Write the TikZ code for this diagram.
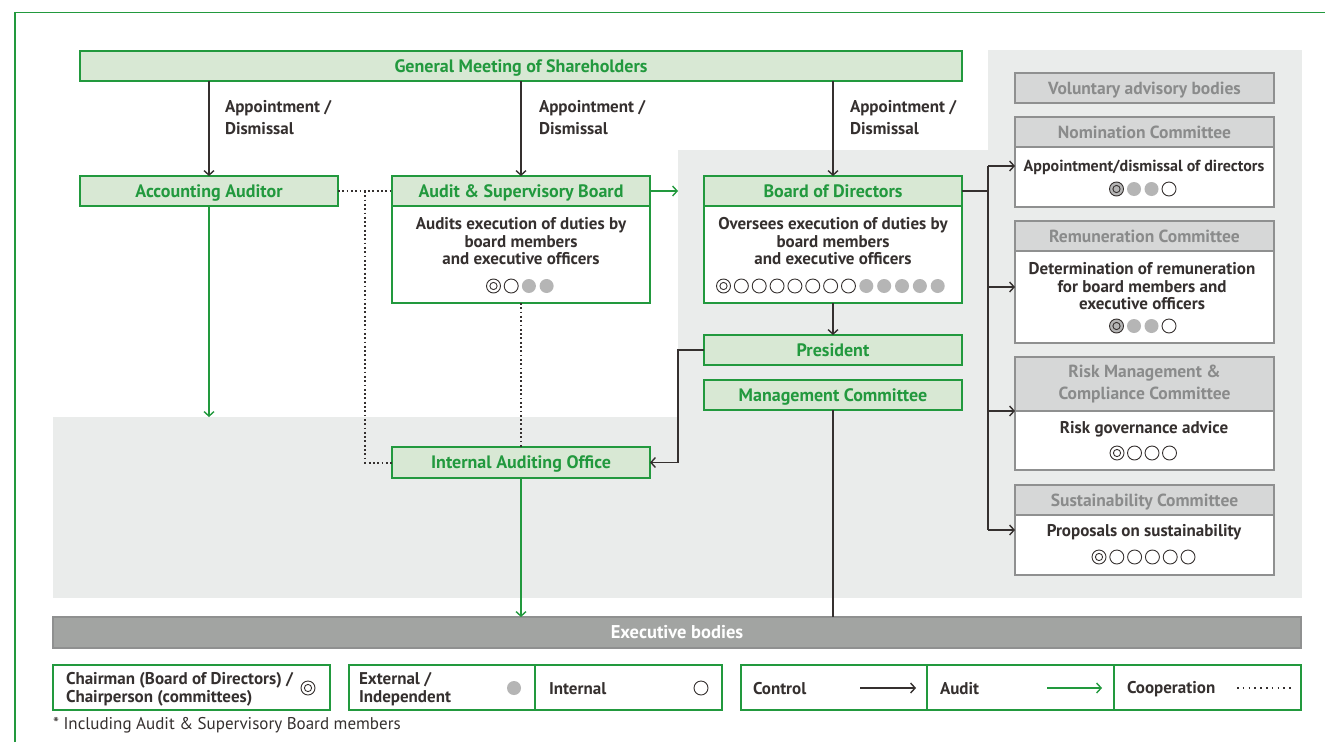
\documentclass[tikz,border=0pt]{standalone}
\usepackage{fontspec}
\setmainfont{PT Sans}
\usetikzlibrary{arrows.meta}
\definecolor{grn}{HTML}{22993E}
\definecolor{lgrn}{HTML}{D8E8D4}
\definecolor{bgc}{HTML}{EAECEB}
\definecolor{dk}{HTML}{35302F}
\definecolor{hgray}{HTML}{D6D7D7}
\definecolor{bgray}{HTML}{8F9090}
\definecolor{tgray}{HTML}{8A8B8B}
\definecolor{exgray}{HTML}{A2A4A2}
\definecolor{dotgray}{HTML}{B5B5B5}
\newcommand\fsz[2]{\fontsize{#1}{#2}\selectfont}
\newcommand\mybox[7]{\node[#2, minimum width={(#5-#3)*1pt}, minimum height={(#6-#4)*1pt}] (#1) at ({(#3+#5)/2},{(#4+#6)/2}) {#7};}
\newcommand\markrow[5]{\foreach \t [count=\i from 0] in {#4} {\node[\t] (#5\i) at ({#1+\i*#3},#2) {};}}
\tikzset{
  every node/.style={inner sep=0pt, outer sep=0pt},
  capc/.style={text height=12.6pt, text depth=0.6pt},
  gbox/.style={draw=grn, fill=lgrn, line width=1.2pt, text=grn, font=\fsz{18}{20}\bfseries, capc},
  wbox/.style={draw=grn, fill=white, line width=1.2pt},
  chbox/.style={draw=bgray, fill=hgray, line width=1.2pt, text=tgray, font=\fsz{17.5}{22}\bfseries, align=center, capc},
  cbbox/.style={draw=bgray, fill=white, line width=1.2pt},
  exbox/.style={draw=bgray, fill=exgray, line width=1.2pt, text=white, font=\fsz{18.5}{20}\bfseries, capc},
  lgbox/.style={draw=grn, fill=white, line width=1.2pt},
  txt/.style={text=dk, font=\fsz{17}{17.5}\bfseries, align=center},
  lbl/.style={text=dk, font=\fsz{17}{22}\bfseries, align=left},
  lgt/.style={text=dk, font=\fsz{17}{18}\bfseries, align=left},
  ctl/.style={draw=dk, line width=1.4pt, -{Straight Barb[length=4.5pt,width=10pt,line width=1.4pt]}},
  ctlline/.style={draw=dk, line width=1.4pt},
  aud/.style={draw=grn, line width=1.4pt, -{Straight Barb[length=4.5pt,width=10pt,line width=1.4pt]}},
  coop/.style={draw=dk, line width=2pt, dash pattern=on 1.8pt off 2.5pt},
  mk/.style={circle, minimum size=14pt, line width=0.9pt, draw=dk},
  oc/.style={mk, fill=white},
  fc/.style={mk, draw=none, fill=dotgray},
  cw/.style={mk, fill=white, path picture={\draw[dk, line width=0.9pt] (path picture bounding box.center) circle (3.6pt);}},
  cg/.style={mk, fill=dotgray, path picture={\draw[dk, line width=0.9pt] (path picture bounding box.center) circle (3.6pt);}},
}
\begin{document}
\begin{tikzpicture}[x=1pt, y=-1pt]
\useasboundingbox (0,0) rectangle (1325,742);
% backgrounds
\fill[bgc] (988,50) rectangle (1302,598);
\fill[bgc] (678,150) rectangle (988,598);
\fill[bgc] (53,417) rectangle (678,598);
\draw[grn, line width=1.2pt] (15,742) -- (15,12.5) -- (1325,12.5);

% main boxes
\mybox{gm}{gbox}{80}{51}{962}{81}{General Meeting of Shareholders}
\mybox{aa}{gbox}{80}{176}{338}{206}{Accounting Auditor}
\mybox{asbb}{wbox}{392}{176}{650}{303}{}
\mybox{asb}{gbox}{392}{176}{650}{206}{Audit \& Supervisory Board}
\mybox{bodb}{wbox}{704}{176}{962}{303}{}
\mybox{bod}{gbox}{704}{176}{962}{206}{Board of Directors}
\mybox{pres}{gbox}{704}{335}{962}{365}{President}
\mybox{mc}{gbox}{704}{380}{962}{410}{Management Committee}
\mybox{iao}{gbox}{392}{447}{650}{478}{Internal Auditing Office}
\mybox{exe}{exbox}{53}{617}{1301}{648}{Executive bodies}

\node[txt] (asbt) at (521,241.5) {Audits execution of duties by\\board members\\and executive officers};
\node[txt] (bodt) at (833,241.5) {Oversees execution of duties by\\board members\\and executive officers};
\markrow{493.5}{286}{17.7}{cw,oc,fc,fc}{asbm}
\markrow{723.5}{286}{17.85}{cw,oc,oc,oc,oc,oc,oc,oc,fc,fc,fc,fc,fc}{bodm}

% committees
\mybox{vab}{chbox}{1015}{73}{1274}{103}{Voluntary advisory bodies}
\mybox{nomb}{cbbox}{1015}{117}{1274}{207}{}
\mybox{nom}{chbox}{1015}{117}{1274}{147}{Nomination Committee}
\mybox{remb}{cbbox}{1015}{221}{1274}{343}{}
\mybox{rem}{chbox}{1015}{221}{1274}{251}{Remuneration Committee}
\mybox{riskb}{cbbox}{1015}{357}{1274}{470}{}
\mybox{risk}{chbox, text height=, text depth=}{1015}{357}{1274}{411}{Risk Management \&\\Compliance Committee}
\mybox{susb}{cbbox}{1015}{485}{1274}{575}{}
\mybox{sus}{chbox}{1015}{485}{1274}{515}{Sustainability Committee}

\node[txt, font=\fsz{16}{17.5}\bfseries] (nomt) at (1144,167) {Appointment/dismissal of directors};
\markrow{1116.5}{189}{17.5}{cg,fc,fc,oc}{nomm}
\node[txt] (remt) at (1142,286.5) {Determination of remuneration\\for board members and\\executive officers};
\markrow{1116.5}{326}{17.5}{cg,fc,fc,oc}{remm}
\node[txt] (riskt) at (1144,429) {Risk governance advice};
\markrow{1117}{453}{17.5}{cw,oc,oc,oc}{riskm}
\node[txt] (sust) at (1144,532) {Proposals on sustainability};
\markrow{1099}{557}{17.8}{cw,oc,oc,oc,oc,oc}{susm}

% appointment arrows
\draw[ctl] (aa.north |- gm.south) -- (aa.north);
\draw[ctl] (asb.north |- gm.south) -- (asb.north);
\draw[ctl] (bod.north |- gm.south) -- (bod.north);
\node[lbl, anchor=west] (l1) at (225,118) {Appointment /\\Dismissal};
\node[lbl, anchor=west] (l2) at (539,118) {Appointment /\\Dismissal};
\node[lbl, anchor=west] (l3) at (850,118) {Appointment /\\Dismissal};

% audit arrows
\coordinate (aaend) at (209,417);
\draw[aud] (aa.south) -- (aaend);
\coordinate (asbend) at (678,191);
\draw[aud] (asb.east) -- (asbend);
\draw[aud] (iao.south) -- (iao.south |- exe.north);

% control
\draw[ctl] (bodb.south) -- (pres.north);
\draw[ctl] (pres.west) -- ++(-26,0) |- (iao.east);
\draw[ctlline] (mc.south) -- (mc.south |- exe.north);
\coordinate (jm) at (988,191);
\coordinate (j1) at (988,166);
\coordinate (j2) at (988,287);
\coordinate (j3) at (988,411);
\coordinate (j4) at (988,530);
\draw[ctlline] (bod.east) -- (jm);
\draw[ctlline] (j1) -- (j4);
\draw[ctl] (j1) -- (j1 -| nomb.west);
\draw[ctl] (j2) -- (j2 -| remb.west);
\draw[ctl] (j3) -- (j3 -| riskb.west);
\draw[ctl] (j4) -- (j4 -| susb.west);

% cooperation
\coordinate (dA) at (365,191);
\draw[coop] (aa.east) -- (asb.west);
\draw[coop] (dA) |- (iao.west);
\draw[coop] (asbb.south) -- (iao.north);

% legend
\mybox{lg1}{lgbox}{53}{665}{330}{710}{}
\mybox{lg2}{lgbox}{349}{665}{535}{710}{}
\mybox{lg3}{lgbox}{535}{665}{722}{710}{}
\mybox{lg4}{lgbox}{741}{665}{927}{710}{}
\mybox{lg5}{lgbox}{927}{665}{1114}{710}{}
\mybox{lg6}{lgbox}{1114}{665}{1301}{710}{}
\node[lgt, anchor=west] (lt1) at (66,689.5) {Chairman (Board of Directors) /\\Chairperson (committees)};
\node[cw] (lm1) at (308,688) {};
\node[lgt, anchor=west] (lt2) at (359,689.5) {External /\\Independent};
\node[fc] (lm2) at (514,688) {};
\node[lgt, anchor=west] (lt3) at (549,689) {Internal};
\node[oc] (lm3) at (701,688) {};
\node[lgt, anchor=west] (lt4) at (753,689) {Control};
\coordinate (la1) at (860,688); \coordinate (lb1) at (916,688);
\draw[ctl] (la1) -- (lb1);
\node[lgt, anchor=west] (lt5) at (940,689) {Audit};
\coordinate (la2) at (1047,688); \coordinate (lb2) at (1102,688);
\draw[aud] (la2) -- (lb2);
\node[lgt, anchor=west] (lt6) at (1127,689) {Cooperation};
\coordinate (la3) at (1237,688); \coordinate (lb3) at (1291,688);
\draw[coop, line width=1.8pt, dash pattern=on 1.6pt off 4.2pt] (la3) -- (lb3);
\node[text=dk, font=\fsz{17}{18}, anchor=west] (fn) at (53,725) {* Including Audit \& Supervisory Board members};
\end{tikzpicture}
\end{document}
